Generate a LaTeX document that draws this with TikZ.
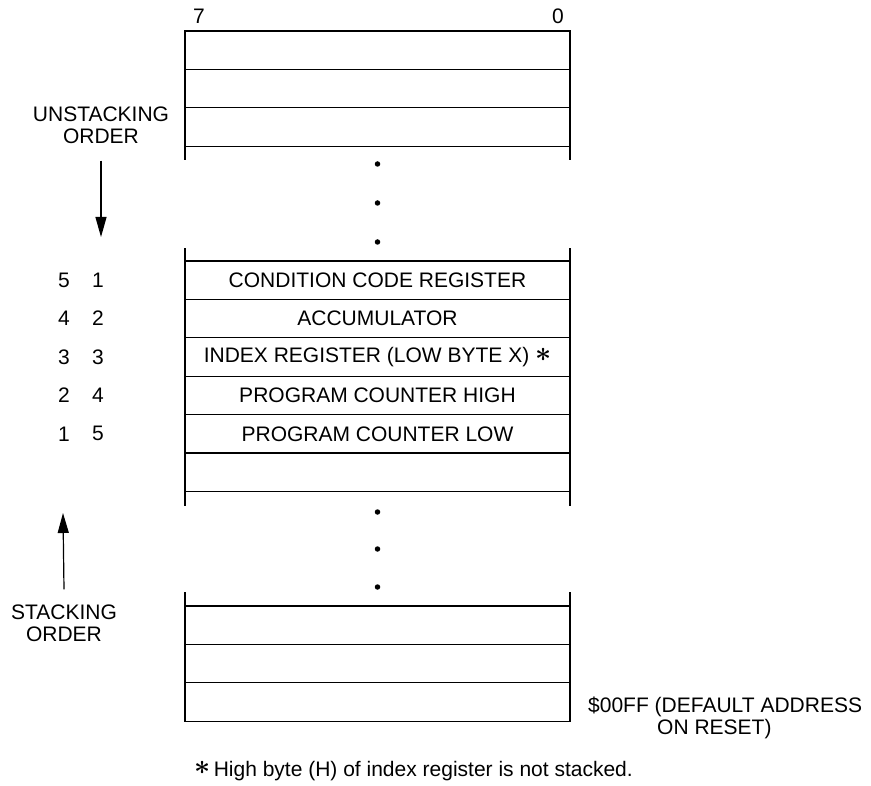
\documentclass[tikz,border=0pt]{standalone}
\usepackage{fontspec}
\setmainfont{Liberation Sans}
\usetikzlibrary{arrows.meta,positioning}

\newcommand{\fnstar}{\raisebox{1.2pt}{\scalebox{1.35}{\boldmath$\ast$}}}

\tikzset{
  txt/.style={font=\fontsize{21}{22}\selectfont},
  row/.style={txt,draw,line width=1.2pt,minimum width=385pt,minimum height=38.4pt,
    inner sep=0pt,outer sep=0pt},
  lbl/.style={txt,inner sep=0pt,align=center},
  dotmark/.style={circle,fill,inner sep=0pt,minimum size=5.5pt},
  order/.style={-{Triangle[length=20pt,width=11pt]},line width=1.2pt},
  side/.style={line width=1.2pt},
}

\begin{document}
\begin{tikzpicture}[x=1pt,y=-1pt,node distance=0pt]
  \useasboundingbox (0,0) rectangle (871,786);

  % bit numbers
  \node[lbl] (bit7) at (199,16.5) {7};
  \node[lbl] (bit0) at (558,16.5) {0};

  % top of stack area
  \node[row] (r1) at (377.5,50.2) {};
  \node[row,below=of r1] (r2) {};
  \node[row,below=of r2] (r3) {};
  \draw[side] (r3.south west) -- ++(0,14);
  \draw[side] (r3.south east) -- ++(0,14);

  \foreach \y in {164,203,242}
    \node[dotmark] (da\y) at (377.5,\y) {};

  % stacked registers
  \node[row] (m1) at (377.5,280.2) {CONDITION CODE REGISTER};
  \node[row,below=of m1] (m2) {ACCUMULATOR};
  \node[row,below=of m2] (m3) {INDEX REGISTER (LOW BYTE X) \fnstar};
  \node[row,below=of m3] (m4) {PROGRAM COUNTER HIGH};
  \node[row,below=of m4] (m5) {PROGRAM COUNTER LOW};
  \node[row,below=of m5] (m6) {};
  \draw[side] (m1.north west) -- ++(0,-13);
  \draw[side] (m1.north east) -- ++(0,-13);
  \draw[side] (m6.south west) -- ++(0,15);
  \draw[side] (m6.south east) -- ++(0,15);

  \foreach \y in {512,549,587}
    \node[dotmark] (db\y) at (377.5,\y) {};

  % bottom of stack area
  \node[row] (b1) at (377.5,625.2) {};
  \node[row,below=of b1] (b2) {};
  \node[row,below=of b2] (b3) {};
  \draw[side] (b1.north west) -- ++(0,-14);
  \draw[side] (b1.north east) -- ++(0,-14);

  % stacking / unstacking order
  \coordinate (scol) at (64,0);
  \coordinate (ucol) at (98,0);
  \foreach \s/\u [count=\i] in {5/1,4/2,3/3,2/4,1/5} {
    \node[lbl] (s\i) at (scol |- m\i) {\s};
    \node[lbl] (u\i) at (ucol |- m\i) {\u};
  }

  \node[lbl] (unst) at (101,125) {UNSTACKING\\ORDER};
  \coordinate (utip) at (101,237);
  \draw[order] ([yshift=-17pt]unst.south) -- (utip);

  \node[lbl] (stk) at (64,623) {STACKING\\ORDER};
  \coordinate (stip) at (63,513);
  \draw[order] ([yshift=15pt]stk.north) -- (stip);

  % address and footnote
  \node[lbl,align=left,anchor=west] (addr) at (588,718)
    {\$00FF (DEFAULT ADDRESS\\\hspace*{69pt}ON RESET)};
  \node[txt,inner sep=0pt,anchor=base west] (note) at (194,776)
    {\fnstar\,High byte (H) of index register is not stacked.};
\end{tikzpicture}
\end{document}
